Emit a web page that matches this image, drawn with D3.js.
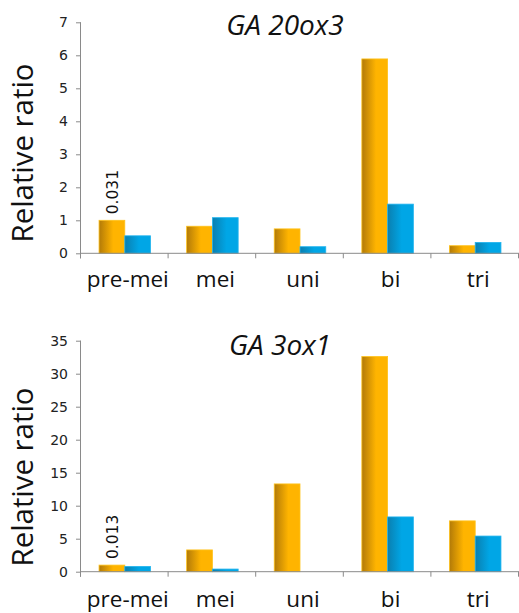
<!DOCTYPE html>
<html><head><meta charset="utf-8">
<script src="https://cdn.jsdelivr.net/npm/d3@7"></script>
<style>
html,body{margin:0;padding:0;background:#fff;}
svg{display:block;}
</style></head>
<body>
<svg id="chart" width="519" height="613" font-family="Open Sans, sans-serif"></svg>
<script>
// ---- data ----
const categories = ["pre-mei", "mei", "uni", "bi", "tri"];
const ga20ox3Orange = [1.0, 0.82, 0.74, 5.89, 0.23];
const ga20ox3Blue   = [0.53, 1.08, 0.2, 1.49, 0.33];
const ga3ox1Orange  = [1.0, 3.3, 13.3, 32.6, 7.7];
const ga3ox1Blue    = [0.8, 0.4, 0.0, 8.3, 5.4];
const ga20ox3Ticks  = [0, 1, 2, 3, 4, 5, 6, 7];
const ga3ox1Ticks   = [0, 5, 10, 15, 20, 25, 30, 35];
const titles = ["GA 20ox3", "GA 3ox1"];
const annotations = ["0.031", "0.013"];
const yLabel = "Relative ratio";

const panels = [
  {title: titles[0], orange: ga20ox3Orange, blue: ga20ox3Blue, ticks: ga20ox3Ticks, max: 7,
   note: annotations[0], top: 22.3, bottom: 253.3, titleY: 35, titleX: 285, labelY: 153, xlabY: 287},
  {title: titles[1], orange: ga3ox1Orange, blue: ga3ox1Blue, ticks: ga3ox1Ticks, max: 35,
   note: annotations[1], top: 340.7, bottom: 571.7, titleY: 355, titleX: 280, labelY: 477, xlabY: 607}
];

const svg = d3.select("#chart");
const defs = svg.append("defs");
function grad(id, c0, c1) {
  const g = defs.append("linearGradient").attr("id", id).attr("x1", "0%").attr("x2", "100%").attr("y1", "0%").attr("y2", "0%");
  g.append("stop").attr("offset", "0%").attr("stop-color", c0);
  g.append("stop").attr("offset", "55%").attr("stop-color", c1);
  g.append("stop").attr("offset", "100%").attr("stop-color", c1);
}
grad("gOrange", "#b27a08", "#ffb400");
grad("gBlue", "#0a7fb0", "#00a6e6");

const xLeft = 81, xRight = 519;
const axisColor = "#8a8a8a";

panels.forEach(p => {
  const x = d3.scaleBand().domain(categories).range([xLeft, xRight]).paddingInner(0).paddingOuter(0);
  const sub = d3.scaleBand().domain(["orange", "blue"]).range([0, x.bandwidth()]).paddingInner(0).paddingOuter(0.7);
  const y = d3.scaleLinear().domain([0, p.max]).range([p.bottom, p.top]);
  const g = svg.append("g");

  // bars
  const rows = categories.map((c, i) => ({c, orange: p.orange[i], blue: p.blue[i]}));
  ["orange", "blue"].forEach(s => {
    g.selectAll(null).data(rows).enter().append("rect")
      .attr("x", d => x(d.c) + sub(s))
      .attr("width", sub.bandwidth())
      .attr("y", d => y(d[s]))
      .attr("height", d => y(0) - y(d[s]))
      .attr("fill", s === "orange" ? "url(#gOrange)" : "url(#gBlue)")
      .attr("stroke", d => d[s] > 0 ? (s === "orange" ? "#ffc21a" : "#22b4ee") : "none")
      .attr("stroke-width", 0.8);
  });

  // y axis
  const ya = g.append("g").attr("transform", `translate(${xLeft},0)`)
    .call(d3.axisLeft(y).tickValues(p.ticks).tickSize(5).tickPadding(8).tickFormat(d3.format("d")));
  ya.attr("font-family", "DejaVu Sans").attr("font-size", 14);
  ya.select(".domain").attr("stroke", axisColor).attr("d", `M-0.5,${p.top}V${p.bottom + 5}`);
  ya.selectAll(".tick line").attr("stroke", axisColor);
  ya.selectAll(".tick text").attr("fill", "#222");

  // x axis (ticks at category boundaries)
  const boundaries = categories.map(c => x(c)).concat([xRight]);
  g.append("line").attr("x1", xLeft).attr("x2", xRight).attr("y1", y(0)).attr("y2", y(0)).attr("stroke", axisColor);
  g.selectAll(null).data(boundaries).enter().append("line")
    .attr("x1", d => d - 0.5).attr("x2", d => d - 0.5).attr("y1", y(0)).attr("y2", y(0) + 5).attr("stroke", axisColor);
  g.selectAll(null).data(categories).enter().append("text")
    .attr("x", d => x(d) + x.bandwidth() / 2 + 3)
    .attr("y", p.xlabY).attr("fill", "#111")
    .attr("text-anchor", "middle").attr("font-size", 22.5).text(d => d);

  // title
  g.append("text").attr("x", p.titleX).attr("y", p.titleY).attr("text-anchor", "middle")
    .attr("font-size", 28).attr("font-style", "italic").attr("fill", "#111").text(p.title);

  // y label
  g.append("text").attr("transform", `translate(33,${p.labelY}) rotate(-90)`)
    .attr("text-anchor", "middle").attr("font-size", 29).attr("fill", "#111")
    .attr("textLength", 179).attr("lengthAdjust", "spacingAndGlyphs").text(yLabel);

  // annotation above first orange bar
  const ax = x(categories[0]) + sub("orange") + sub.bandwidth() / 2 + 6;
  g.append("text").attr("transform", `translate(${ax},${y(p.orange[0]) - 6}) rotate(-90)`)
    .attr("text-anchor", "start").attr("font-size", 15.5).attr("font-family", "DejaVu Sans")
    .attr("fill", "#111").text(p.note);
});
</script>
</body></html>
